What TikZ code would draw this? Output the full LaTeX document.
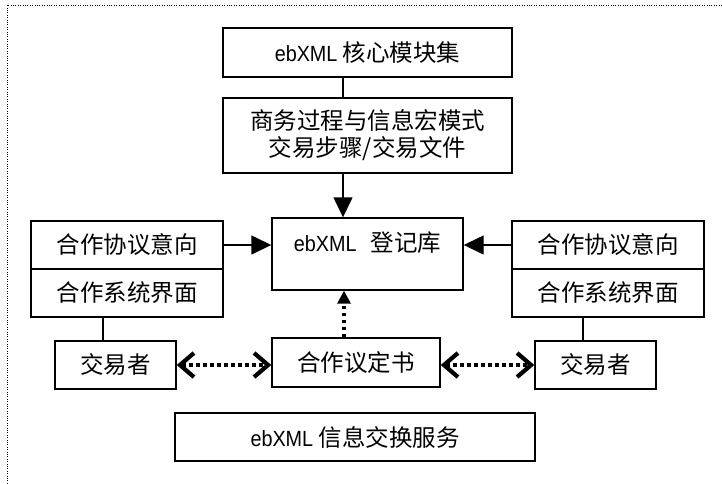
\documentclass[tikz,border=0pt]{standalone}
\usepackage{fontspec}
\setmainfont{Noto Sans CJK SC}
\newfontfamily\latfont{Liberation Sans}
\usetikzlibrary{arrows.meta}
\newcommand\ebx{\scalebox{0.9}[1]{\latfont\fontsize{22}{28}\selectfont ebXML}}
\begin{document}
\begin{tikzpicture}[x=1pt,y=-1pt,
  box/.style={draw, line width=1.4pt, inner sep=0pt, align=center,
    font=\fontsize{23.5}{27}\selectfont},
  link/.style={line width=1.4pt},
  solidarrow/.style={line width=1.4pt, -{Triangle[length=20pt,width=19pt]}},
  dotline/.style={line width=3.5pt, dash pattern=on 3.5pt off 3.5pt},
  duparrow/.style={dotline, -{Triangle[length=13pt,width=13pt]}},
  chevrons/.style={dotline, {Straight Barb[length=14pt,width=24pt,line width=4.2pt]}-{Straight Barb[length=14pt,width=24pt,line width=4.2pt]}},
  frame/.style={line width=0.8pt, dash pattern=on 1pt off 1.4pt}
]
\useasboundingbox (0,0) rectangle (722,483);
% dotted frame (continues beyond the picture)
\coordinate (ftr) at (722,5);
\coordinate (ftl) at (7,5);
\coordinate (fbl) at (7,483);
\draw[frame] (ftr) -- (ftl) -- (fbl);

\node[box, minimum width=289pt, minimum height=49pt] (core) at (367.5,52.5) {\ebx{} 核心模块集};
\node[box, minimum width=289pt, minimum height=75pt] (bp) at (367.5,135.5) {商务过程与信息宏模式\\交易步骤/交易文件};
\node[box, minimum width=191pt, minimum height=72pt] (reg) at (367.5,254) {};
\node[font=\fontsize{23.5}{27}\selectfont, inner sep=0pt] (regt) at (367.5,243) {\ebx\hspace{0.6em}登记库};

\node[box, minimum width=192pt, minimum height=48pt] (lcpa) at (127,245) {合作协议意向};
\node[box, minimum width=192pt, minimum height=48pt] (lcsi) at (127,293) {合作系统界面};
\node[box, minimum width=192pt, minimum height=48pt] (rcpa) at (608,245) {合作协议意向};
\node[box, minimum width=192pt, minimum height=48pt] (rcsi) at (608,293) {合作系统界面};

\node[box, minimum width=121pt, minimum height=48pt] (ltr) at (115.5,365) {交易者};
\node[box, minimum width=121pt, minimum height=48pt] (rtr) at (595.5,365) {交易者};
\node[box, minimum width=168pt, minimum height=49pt] (cpa) at (356,362.5) {合作议定书};
\node[box, minimum width=360pt, minimum height=48pt] (msg) at (355,437) {\ebx{} 信息交换服务};

% connectors
\draw[link] ([xshift=-24.5pt]core.south) -- ([xshift=-24.5pt]bp.north);
\draw[solidarrow] ([xshift=-24.5pt]bp.south) -- ([xshift=-24.5pt]reg.north);
\draw[solidarrow] (lcpa.east) -- (lcpa.east -| reg.west);
\draw[solidarrow] (rcpa.west) -- (rcpa.west -| reg.east);
\draw[link] ([xshift=-12.5pt]ltr.north) -- ([xshift=-12.5pt]ltr.north |- lcsi.south);
\draw[link] ([xshift=-12.5pt]rtr.north) -- ([xshift=-12.5pt]rtr.north |- rcsi.south);
\draw[duparrow] ([xshift=-12pt]cpa.north) -- ([xshift=-12pt]cpa.north |- reg.south);
\draw[chevrons] (ltr.east) -- (ltr.east -| cpa.west);
\draw[chevrons] (rtr.west -| cpa.east) -- (rtr.west);
\end{tikzpicture}
\end{document}
